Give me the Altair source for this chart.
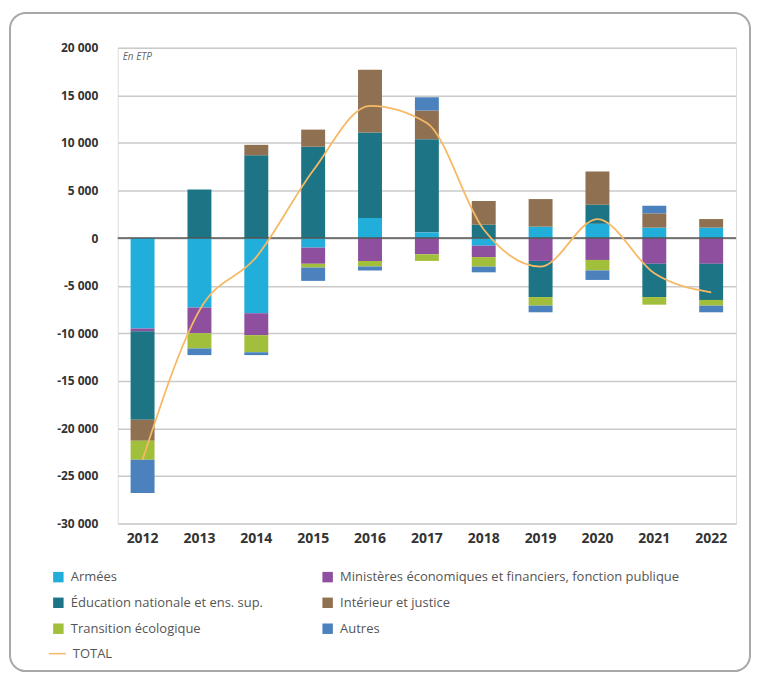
import altair as alt
import pandas as pd

years = ['2012', '2013', '2014', '2015', '2016', '2017', '2018', '2019', '2020', '2021', '2022']
series = ['Armées', 'Ministères économiques et financiers, fonction publique',
          'Éducation nationale et ens. sup.', 'Intérieur et justice',
          'Transition écologique', 'Autres']
colors = ['#22AEDB', '#8E4F9F', '#1C7485', '#8F7152', '#A2BF3B', '#4B82BE']
# legend reading order (filled column by column)
legend_order = [0, 2, 4, 1, 3, 5]

armees = [-9500, -7300, -7900, -1000, 2100, 600, -800, 1200, 1500, 1100, 1100]
ministeres = [-300, -2700, -2300, -1700, -2400, -1700, -1200, -2400, -2300, -2700, -2700]
education = [-9300, 5100, 8700, 9600, 9000, 9800, 1400, -3800, 2000, -3500, -3800]
interieur = [-2200, 0, 1100, 1800, 6600, 3000, 2500, 2900, 3500, 1500, 900]
transition = [-2000, -1600, -1800, -400, -600, -700, -1000, -900, -1100, -800, -600]
autres = [-3500, -700, -300, -1400, -400, 1400, -600, -700, -1000, 800, -700]
total = [-23300, -7600, -2000, 7100, 13900, 12100, 900, -3000, 2000, -3700, -5700]

y_ticks = [-30000, -25000, -20000, -15000, -10000, -5000, 0, 5000, 10000, 15000, 20000]

values = [armees, ministeres, education, interieur, transition, autres]
rows = []
for si, (name, vals) in enumerate(zip(series, values)):
    for y, v in zip(years, vals):
        rows.append({'annee': y, 'serie': name, 'valeur': v, 'ord': si})
bars_df = pd.DataFrame(rows)
total_df = pd.DataFrame({'annee': years, 'valeur': total, 'serie': ['TOTAL'] * len(years)})

FONT = 'Open Sans'

x_enc = alt.X('annee:N', title=None, sort=years,
              scale=alt.Scale(paddingInner=0.585, paddingOuter=0.23),
              axis=alt.Axis(labelAngle=0, labelFontSize=14, labelFontWeight='bold',
                            labelColor='#333333', ticks=False, domain=False,
                            labelPadding=8, grid=False))
y_scale = alt.Scale(domain=[-30000, 20000], nice=False)

bars = alt.Chart(bars_df).mark_bar(size=24).encode(
    x=x_enc,
    y=alt.Y('valeur:Q', title=None, scale=y_scale, stack='zero',
            axis=alt.Axis(values=y_ticks, grid=True, gridColor='#CACACA', gridWidth=1.5,
                          ticks=False, domain=False, labelFontSize=12, labelFontWeight='bold',
                          labelColor='#333333', labelPadding=20,
                          labelExpr="(datum.value < 0 ? '-' : '') + replace(format(abs(datum.value), ','), ',', ' ')")),
    color=alt.Color('serie:N',
                    scale=alt.Scale(domain=[series[i] for i in legend_order],
                                    range=[colors[i] for i in legend_order]),
                    legend=alt.Legend(title=None, orient='none', legendX=-66, legendY=524,
                                      columns=2, symbolType='square', symbolSize=110,
                                      symbolStrokeWidth=0, labelFontSize=13, labelFont=FONT,
                                      labelColor='#555555', rowPadding=12, columnPadding=58,
                                      labelOffset=6, labelLimit=500)),
    order=alt.Order('ord:Q')
)

zero = alt.Chart(pd.DataFrame({'v': [0]})).mark_rule(color='#555555', strokeWidth=1.5).encode(
    y=alt.Y('v:Q', scale=y_scale)
)

line = alt.Chart(total_df).mark_line(strokeWidth=1.8, interpolate='monotone').encode(
    x=alt.X('annee:N', sort=years),
    y=alt.Y('valeur:Q', scale=y_scale),
    stroke=alt.Stroke('serie:N', scale=alt.Scale(domain=['TOTAL'], range=['#F6B965']),
                      legend=alt.Legend(title=None, orient='none', legendX=-70, legendY=598,
                                        symbolType='stroke', symbolSize=300, symbolStrokeWidth=1.5,
                                        labelFontSize=13, labelFont=FONT, labelColor='#555555',
                                        labelOffset=6))
)

note = alt.Chart(pd.DataFrame({'t': ['En ETP']})).mark_text(
    align='left', baseline='middle', fontStyle='italic', fontSize=10, color='#666666', font=FONT
).encode(x=alt.value(5), y=alt.value(9), text='t:N')

border = alt.Chart(pd.DataFrame({'a': [0]})).mark_rect(
    fillOpacity=0, stroke='#A8A8A8', strokeWidth=2, cornerRadius=16
).encode(x=alt.value(-108), x2=alt.value(634), y=alt.value(-35), y2=alt.value(625))

chart = alt.layer(border, bars, zero, line, note).resolve_scale(
    color='independent', stroke='independent'
).properties(
    width=620, height=477,
    padding={'left': 110, 'top': 39, 'right': 16, 'bottom': 150},
    autosize=alt.AutoSizeParams(type='none'),
    background='white'
).configure_view(stroke=None).configure(font=FONT)

chart.save('out.html', embed_options={'renderer': 'svg', 'actions': False})
